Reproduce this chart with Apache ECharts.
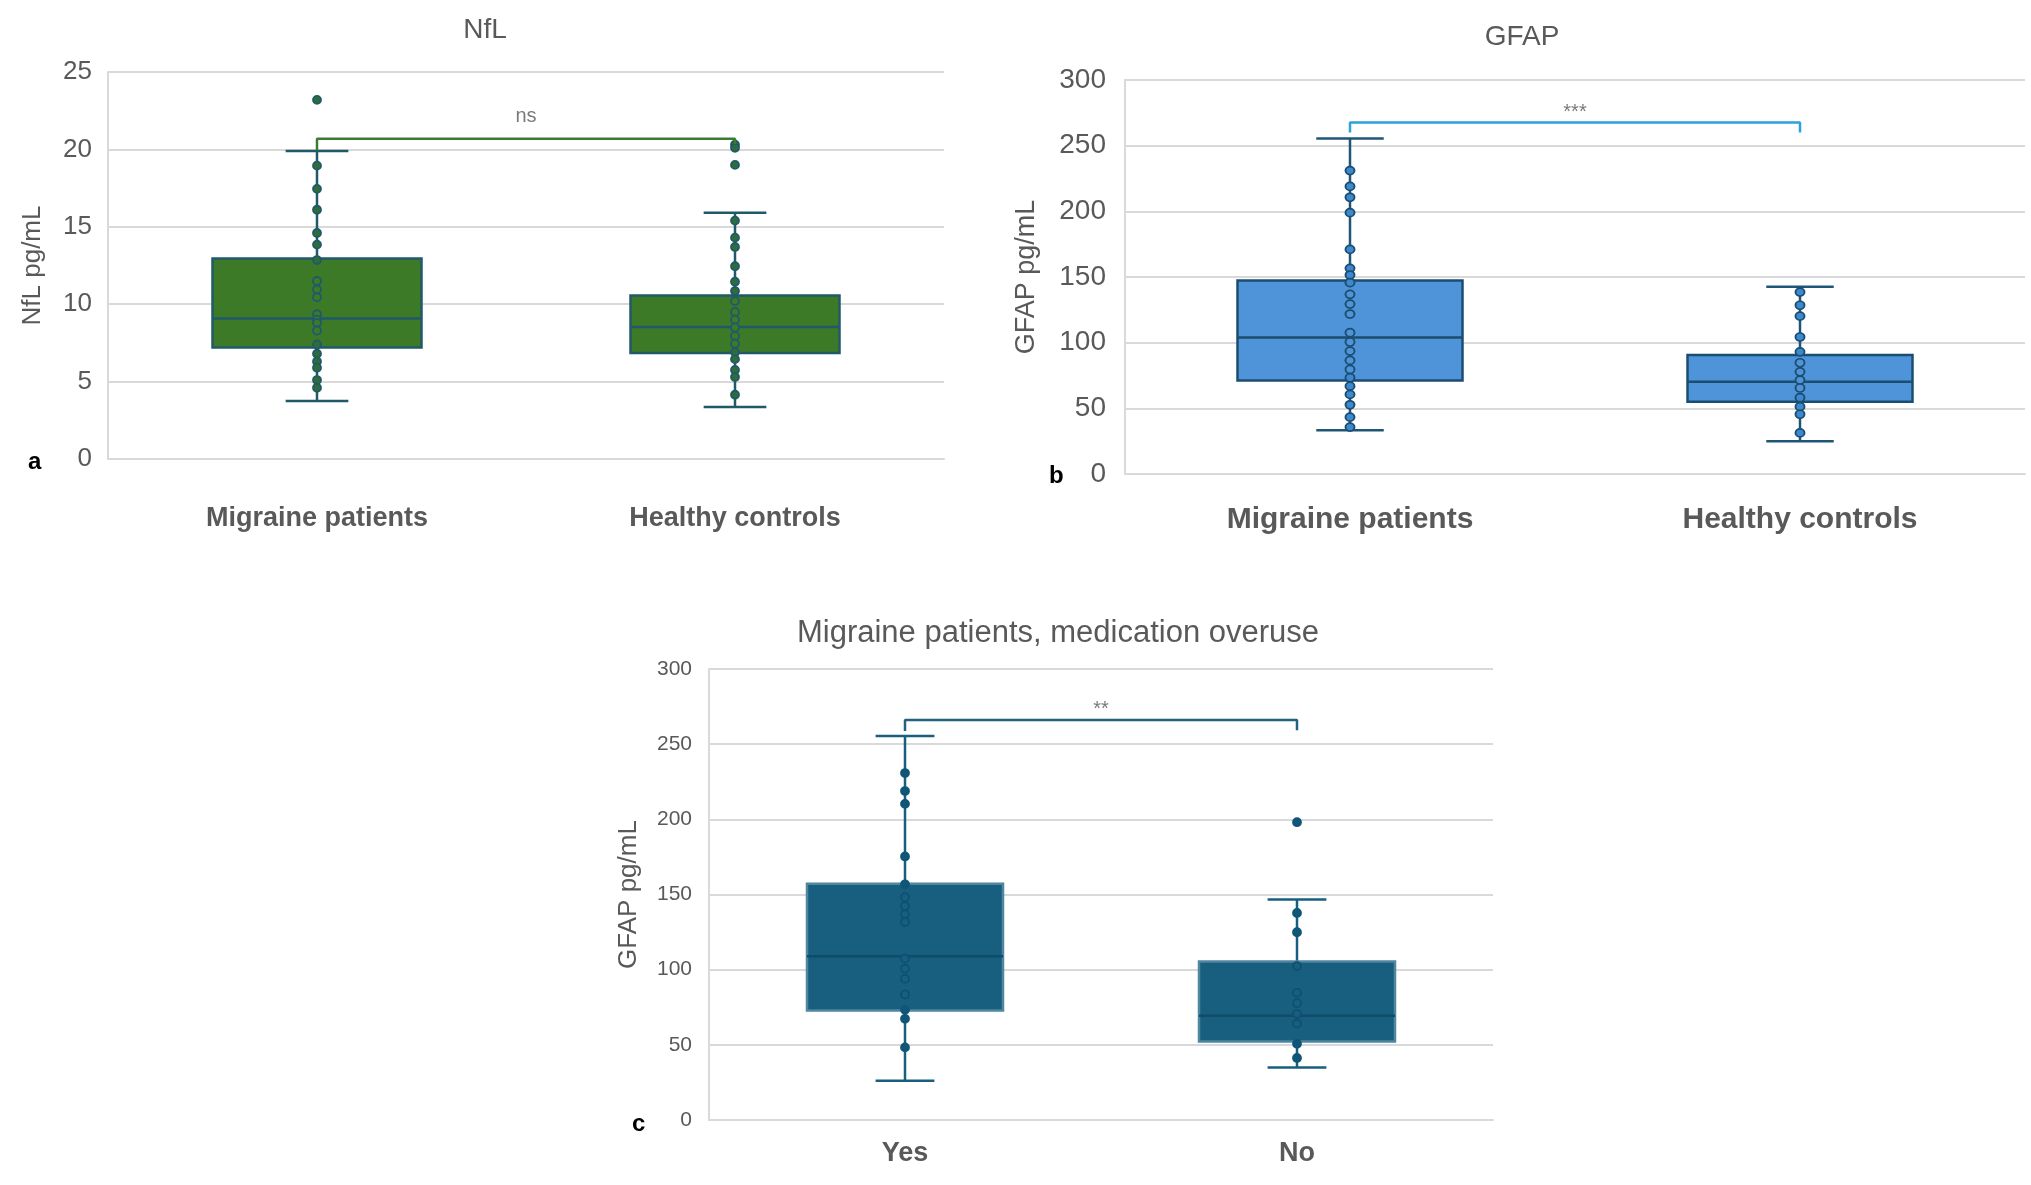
<!DOCTYPE html>
<html>
<head>
<meta charset="utf-8">
<script src="https://cdn.jsdelivr.net/npm/echarts@6/dist/echarts.min.js"></script>
<style>
body{margin:0;background:#fff}
#divChart{width:2031px;height:1185px}
</style>
</head>
<body>
<div id="divChart"></div>
<script>
// categories
var catsAB = ['Migraine patients', 'Healthy controls']
var catsC = ['Yes', 'No']

// a) NfL, box = [min, q1, median, q3, max]
var nflMigraine = [23.2, 18.95, 17.45, 16.1, 14.6, 13.85, 12.85, 11.5, 10.95, 10.45, 9.35, 9.0, 8.8, 8.3, 7.4, 6.8, 6.3, 5.9, 5.1, 4.6]
var nflHealthy = [20.3, 20.1, 19.0, 15.4, 14.3, 13.7, 12.45, 11.45, 10.85, 10.2, 9.5, 9.0, 8.5, 7.95, 7.45, 6.9, 6.45, 5.75, 5.3, 4.15]
var nflBox = [[3.75, 7.2, 9.07, 12.95, 19.9], [3.36, 6.84, 8.53, 10.57, 15.9]]

// b) GFAP
var gfapMigraine = [231, 219, 210.7, 199, 171, 156.6, 151.5, 145.7, 136.8, 129.4, 121.8, 107.6, 100.5, 93.6, 86.5, 79.6, 73.3, 66.9, 60.6, 52.7, 43.3, 35.7]
var gfapHealthy = [138.5, 128.5, 120.2, 104.3, 93, 84.7, 77.8, 71.5, 65.5, 58.1, 51.3, 45.5, 31.3]
var gfapBox = [[33.4, 71.2, 104.0, 147.4, 255.4], [25, 55.1, 70.2, 90.7, 142.6]]

// c) GFAP by medication overuse
var mohYes = [230.8, 218.8, 210.3, 175.3, 156.8, 148.2, 142.3, 136.8, 131.7, 107.4, 100.7, 94.0, 83.5, 73.3, 67.3, 48.3]
var mohNo = [198.1, 137.7, 124.9, 102.4, 84.6, 77.7, 70.6, 64.2, 50.7, 41.3]
var mohBox = [[26.1, 72.8, 108.9, 157.1, 255.5], [35.0, 52.3, 69.4, 105.5, 146.6]]

// significance brackets: [left end, top, right end], label, label height
var sigLevels = [[19.95, 20.68, 20.35], [260, 267.6, 260], [258.8, 266, 259.2]]
var sigLabels = ['ns', '***', '**']
var sigLabelY = [22.1, 275, 273]

var FONT = "'Liberation Sans', Arial, sans-serif"
var GRAY = '#595959'
var GRID_C = '#d9d9d9'

var boxRender = (st)=>(params, api)=>{
  var x = api.value(0)
  var lo = api.coord([x, api.value(1)])
  var q1 = api.coord([x, api.value(2)])
  var md = api.coord([x, api.value(3)])
  var q3 = api.coord([x, api.value(4)])
  var hi = api.coord([x, api.value(5)])
  var unit = api.size([1, 0])[0]
  var bw = unit*0.5, cw = unit*0.15, cx = lo[0]
  return {type:'group', children:[
    {type:'line', shape:{x1:cx, y1:hi[1], x2:cx, y2:lo[1]}, style:{stroke:st.whisk, lineWidth:2.5}},
    {type:'line', shape:{x1:cx-cw/2, y1:hi[1], x2:cx+cw/2, y2:hi[1]}, style:{stroke:st.whisk, lineWidth:2.5}},
    {type:'line', shape:{x1:cx-cw/2, y1:lo[1], x2:cx+cw/2, y2:lo[1]}, style:{stroke:st.whisk, lineWidth:2.5}},
    {type:'rect', shape:{x:cx-bw/2, y:q3[1], width:bw, height:q1[1]-q3[1]}, style:{fill:st.fill, stroke:st.stroke, lineWidth:2.5}},
    {type:'line', shape:{x1:cx-bw/2, y1:md[1], x2:cx+bw/2, y2:md[1]}, style:{stroke:st.med, lineWidth:2.5}}
  ]}
}

var panels = [
  {vals:[nflMigraine, nflHealthy], box:nflBox, cats:catsAB,
   st:{fill:'#3c7a27', stroke:'#205a6a', whisk:'#205a6a', med:'#205a6a', dot:'#2e6c3b', dotBorder:'#205a6a', bracket:'#3a7d2e'},
   dotSize:[8,8]},
  {vals:[gfapMigraine, gfapHealthy], box:gfapBox, cats:catsAB,
   st:{fill:'#4f94d8', stroke:'#1b4d70', whisk:'#1f5678', med:'#1b4d70', dot:'#3d89cf', dotBorder:'#1b4d70', bracket:'#2ba2da'},
   dotSize:[9,8]},
  {vals:[mohYes, mohNo], box:mohBox, cats:catsC,
   st:{fill:'#175e7f', stroke:'#4f86a0', whisk:'#175e7f', med:'#0f4c69', dot:'#0f5677', dotBorder:'#0f5677', bracket:'#1f6282', hollowBorder:'#0f5070'},
   dotSize:[8,8]}
]

var grids = [
  {left:108, right:1087, top:72, bottom:726},
  {left:1125, right:6, top:80, bottom:711},
  {left:709, right:538, top:669, bottom:65}
]
var yMax = [25, 300, 300], yStep = [5, 50, 50]
var tickFont = [26, 28, 21], tickMargin = [16, 19, 17]
var nameFont = [26, 27, 26], nameGap = [62, 85, 67]
var catFont = [27, 30, 27], catMargin = [46, 31, 20]
var yNames = ['NfL pg/mL', 'GFAP pg/mL', 'GFAP pg/mL']

var xAxes = [], yAxes = [], series = []
panels.forEach((p, i)=>{
  xAxes.push({type:'category', gridIndex:i, data:p.cats, boundaryGap:true,
    axisLine:{show:true, lineStyle:{color:GRID_C, width:2}}, axisTick:{show:false},
    splitLine:{show:false},
    axisLabel:{fontFamily:FONT, fontWeight:'bold', fontSize:catFont[i], color:GRAY, margin:catMargin[i]}})
  xAxes.push({type:'value', gridIndex:i, min:-0.5, max:1.5, show:false})
  yAxes.push({type:'value', gridIndex:i, min:0, max:yMax[i], interval:yStep[i],
    name:yNames[i], nameLocation:'middle', nameGap:nameGap[i],
    nameTextStyle:{fontFamily:FONT, fontSize:nameFont[i], color:GRAY},
    axisLine:{show:true, onZero:false, lineStyle:{color:GRID_C, width:2}}, axisTick:{show:false},
    splitLine:{lineStyle:{color:GRID_C, width:2}},
    axisLabel:{fontFamily:FONT, fontSize:tickFont[i], color:GRAY, margin:tickMargin[i]}})
  var xi = i*2+1
  series.push({type:'custom', xAxisIndex:xi, yAxisIndex:i, z:2,
    data:p.box.map((b, k)=>[k].concat(b)), encode:{x:0, y:[1,2,3,4,5]},
    renderItem:boxRender(p.st), silent:true})
  var dots = []
  p.vals.forEach((arr, k)=>arr.forEach(v=>{
    var b = p.box[k]
    var inside = v > b[1] + 0.01*yMax[i] && v < b[3] - 0.01*yMax[i]
    dots.push(inside
      ? {value:[k, v], itemStyle:{color:p.st.fill, borderColor:p.st.hollowBorder || p.st.dotBorder}}
      : {value:[k, v]})
  }))
  series.push({type:'scatter', xAxisIndex:xi, yAxisIndex:i, z:3, symbolSize:p.dotSize,
    itemStyle:{color:p.st.dot, borderColor:p.st.dotBorder, borderWidth:1.8, opacity:1},
    data:dots, silent:true})
  var s = sigLevels[i]
  series.push({type:'line', xAxisIndex:xi, yAxisIndex:i, z:4, symbol:'none',
    lineStyle:{color:p.st.bracket, width:2.5}, data:[[0, s[0]], [0, s[1]], [1, s[1]], [1, s[2]]], silent:true})
  series.push({type:'scatter', xAxisIndex:xi, yAxisIndex:i, z:4, symbolSize:1,
    itemStyle:{color:'rgba(0,0,0,0)'},
    label:{show:true, position:'inside', formatter:sigLabels[i], fontFamily:FONT, fontSize:20, color:GRAY},
    data:[[0.5, sigLabelY[i]]], silent:true})
})

var option = {
  animation:false,
  backgroundColor:'#fff',
  title:[
    {text:'NfL', left:480, top:11, textAlign:'center', textStyle:{fontFamily:FONT, fontWeight:'normal', fontSize:28, color:GRAY}},
    {text:'GFAP', left:1517, top:18, textAlign:'center', textStyle:{fontFamily:FONT, fontWeight:'normal', fontSize:28, color:GRAY}},
    {text:'Migraine patients, medication overuse', left:1053, top:613, textAlign:'center', textStyle:{fontFamily:FONT, fontWeight:'normal', fontSize:31, color:GRAY}}
  ],
  graphic:[
    {type:'text', left:28, top:450, style:{text:'a', font:"bold 24px "+FONT, fill:'#000'}},
    {type:'text', left:1049, top:464, style:{text:'b', font:"bold 24px "+FONT, fill:'#000'}},
    {type:'text', left:632, top:1112, style:{text:'c', font:"bold 24px "+FONT, fill:'#000'}}
  ],
  grid:grids,
  xAxis:xAxes,
  yAxis:yAxes,
  series:series
}

var chart = echarts.init(document.getElementById('divChart'))
chart.setOption(option)
</script>
</body>
</html>
